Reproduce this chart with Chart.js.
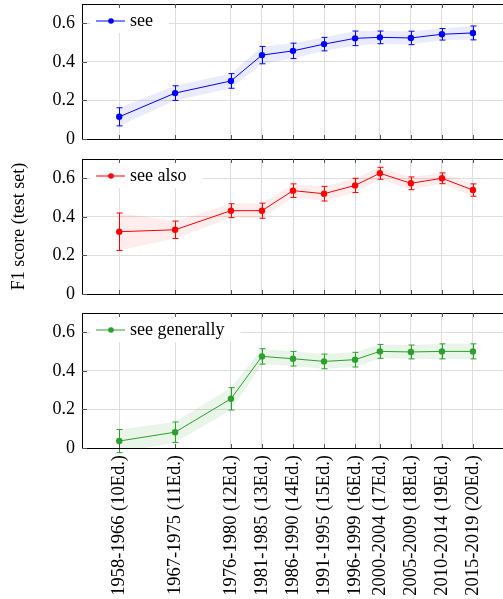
<!DOCTYPE html>
<html>
<head>
<meta charset="utf-8">
<script src="https://cdn.jsdelivr.net/npm/chart.js@4.4.1/dist/chart.umd.min.js"></script>
<style>
	html, body { margin: 0; padding: 0; background: #fff; width: 503px; height: 599px; overflow: hidden; }
	canvas { position: absolute; left: 0; }
</style>
</head>
<body>
<canvas id="panel1" width="504" height="151" style="top:0px"></canvas>
<canvas id="panel2" width="504" height="151" style="top:155px"></canvas>
<canvas id="panel3" width="504" height="290" style="top:309px"></canvas>
<script>
// years (start of each edition period) and tick labels
var anios = [1958, 1967, 1976, 1981, 1986, 1991, 1996, 2000, 2005, 2010, 2015];
var etiquetas = ['1958-1966 (10Ed.)', '1967-1975 (11Ed.)', '1976-1980 (12Ed.)', '1981-1985 (13Ed.)',
	'1986-1990 (14Ed.)', '1991-1995 (15Ed.)', '1996-1999 (16Ed.)', '2000-2004 (17Ed.)',
	'2005-2009 (18Ed.)', '2010-2014 (19Ed.)', '2015-2019 (20Ed.)'];
var yTicks = [0, 0.2, 0.4, 0.6];

var seeMedia = [0.115, 0.238, 0.301, 0.435, 0.457, 0.492, 0.522, 0.527, 0.524, 0.543, 0.550];
var seeError = [0.047, 0.038, 0.038, 0.045, 0.040, 0.035, 0.038, 0.033, 0.035, 0.030, 0.036];

var alsoMedia = [0.323, 0.333, 0.432, 0.432, 0.536, 0.520, 0.563, 0.626, 0.574, 0.600, 0.539];
var alsoError = [0.097, 0.045, 0.036, 0.039, 0.035, 0.038, 0.037, 0.031, 0.033, 0.028, 0.032];

var genMedia = [0.036, 0.082, 0.255, 0.475, 0.463, 0.449, 0.458, 0.501, 0.498, 0.501, 0.501];
var genError = [0.060, 0.053, 0.058, 0.040, 0.038, 0.038, 0.038, 0.036, 0.036, 0.039, 0.039];

var fuente = "'Liberation Serif', 'DejaVu Serif', serif";
Chart.defaults.font.family = fuente;
Chart.defaults.font.size = 18;
Chart.defaults.color = '#000';

function puntos(valores, error, signo) {
	return anios.map(function(a, i) {
		return { x: a, y: valores[i] + signo * error[i] };
	});
}

var extras = {
	id: 'extras',
	afterDatasetsDraw: function(chart, args, opts) {
		var ctx = chart.ctx;
		var x = chart.scales.x, y = chart.scales.y;
		var area = chart.chartArea;

		// error bars
		ctx.save();
		ctx.strokeStyle = opts.color;
		ctx.lineWidth = 1;
		ctx.beginPath();
		opts.media.forEach(function(m, i) {
			var px = Math.round(x.getPixelForValue(anios[i])) + 0.5;
			var y1 = y.getPixelForValue(m + opts.error[i]);
			var y2 = y.getPixelForValue(m - opts.error[i]);
			ctx.moveTo(px, y1); ctx.lineTo(px, y2);
			ctx.moveTo(px - 3, y1); ctx.lineTo(px + 3, y1);
			ctx.moveTo(px - 3, y2); ctx.lineTo(px + 3, y2);
		});
		ctx.stroke();

		// legend
		ctx.font = '18px ' + fuente;
		var ancho = ctx.measureText(opts.label).width;
		var ly = area.top + 17;
		ctx.fillStyle = '#fff';
		ctx.fillRect(area.left + 8, area.top + 4, 48 + ancho + 8, 25);
		ctx.beginPath();
		ctx.moveTo(area.left + 14, ly); ctx.lineTo(area.left + 43, ly);
		ctx.stroke();
		ctx.fillStyle = opts.color;
		ctx.beginPath();
		ctx.arc(area.left + 29, ly, 2.8, 0, Math.PI * 2);
		ctx.fill();
		ctx.fillStyle = '#000';
		ctx.textBaseline = 'middle';
		ctx.fillText(opts.label, area.left + 48, ly);

		// frame and inner tick marks
		ctx.strokeStyle = '#000';
		ctx.strokeRect(Math.round(area.left) + 0.5, Math.round(area.top) + 0.5, area.right - area.left, area.bottom - area.top);
		ctx.strokeStyle = '#555';
		ctx.beginPath();
		anios.forEach(function(a) {
			var px = Math.round(x.getPixelForValue(a)) + 0.5;
			ctx.moveTo(px, area.top); ctx.lineTo(px, area.top + 4);
			ctx.moveTo(px, area.bottom - 4); ctx.lineTo(px, area.bottom);
		});
		yTicks.forEach(function(v) {
			var py = Math.round(y.getPixelForValue(v)) + 0.5;
			ctx.moveTo(area.left, py); ctx.lineTo(area.left + 5, py);
		});
		ctx.stroke();
		ctx.restore();
	}
};

function crearPanel(id, label, color, banda, media, error, ultimo, titulo) {
	return new Chart(id, {
		type: 'line',
		data: {
			datasets: [
				{
					data: puntos(media, error, 0),
					borderColor: color,
					backgroundColor: color,
					borderWidth: 1,
					pointRadius: 3.2,
					pointBorderWidth: 0,
					fill: false,
					tension: 0
				},
				{
					data: puntos(media, error, 1),
					borderWidth: 0,
					borderColor: 'rgba(0,0,0,0)',
					pointRadius: 0,
					fill: false
				},
				{
					data: puntos(media, error, -1),
					borderWidth: 0,
					borderColor: 'rgba(0,0,0,0)',
					backgroundColor: banda,
					pointRadius: 0,
					fill: '-1'
				}
			]
		},
		options: {
			responsive: false,
			animation: false,
			devicePixelRatio: 1,
			layout: { autoPadding: false, padding: { top: 4, bottom: ultimo ? 0 : 12, left: 0, right: 0 } },
			plugins: {
				legend: { display: false },
				tooltip: { enabled: false },
				extras: { label: label, color: color, media: media, error: error }
			},
			scales: {
				x: {
					type: 'linear',
					min: 1952,
					max: 2020,
					grid: { color: '#dedede', drawTicks: false },
					border: { color: '#000' },
					afterBuildTicks: function(s) { s.ticks = anios.map(function(a) { return { value: a }; }); },
					afterFit: function(s) {
						s.paddingLeft = 0; s.paddingRight = 0;
						s.height = ultimo ? 151 : 0;
					},
					ticks: {
						display: ultimo,
						autoSkip: false,
						minRotation: 90,
						maxRotation: 90,
						padding: 7,
						font: { size: 18.5 },
						callback: function(v) { return etiquetas[anios.indexOf(v)]; }
					}
				},
				y: {
					min: 0,
					max: 0.7,
					grid: { color: '#dedede', drawTicks: false },
					border: { color: '#000' },
					afterBuildTicks: function(s) { s.ticks = yTicks.map(function(v) { return { value: v }; }); },
					afterFit: function(s) {
						s.width = 82; s.paddingTop = 0; s.paddingBottom = 0;
					},
					title: {
						display: titulo,
						text: 'F1 score (test set)',
						padding: { top: 8, bottom: 0 }
					},
					ticks: {
						padding: 7,
						callback: function(v) { return v === 0 ? '0' : v.toFixed(1); }
					}
				}
			}
		},
		plugins: [extras]
	});
}

window.addEventListener('load', function() {
	crearPanel('panel1', 'see', '#0000ff', 'rgba(0,0,255,0.08)', seeMedia, seeError, false, false);
	crearPanel('panel2', 'see also', '#ff0000', 'rgba(255,0,0,0.07)', alsoMedia, alsoError, false, true);
	crearPanel('panel3', 'see generally', '#2ca02c', 'rgba(44,160,44,0.11)', genMedia, genError, true, false);
});
</script>
</body>
</html>
